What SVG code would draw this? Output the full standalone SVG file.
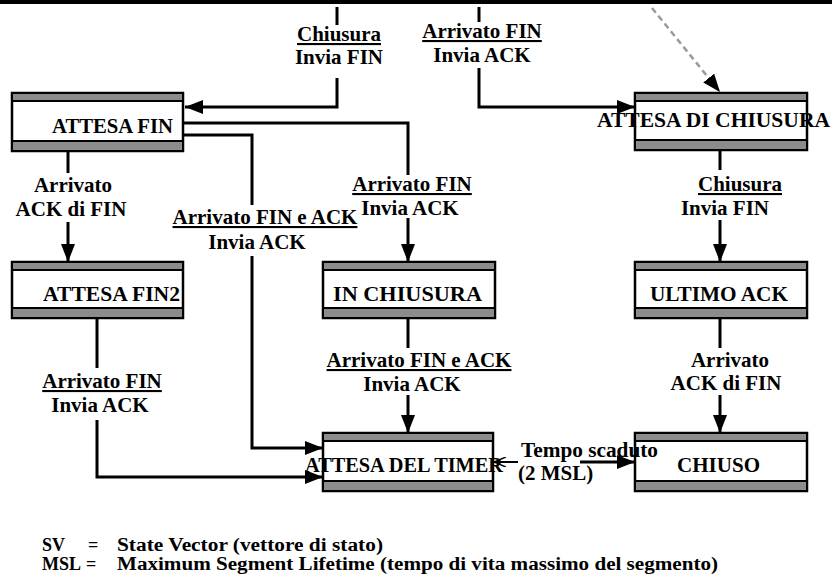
<svg xmlns="http://www.w3.org/2000/svg" width="832" height="580" viewBox="0 0 832 580">
<style>
.box{fill:#fff;stroke:#000;stroke-width:2.5}
.band{fill:#8c8c8c;stroke:#000;stroke-width:2}
.nt{font-family:'Liberation Serif','DejaVu Serif','Times New Roman',serif;font-weight:bold;font-size:20px;fill:#000}
.lb{font-family:'Liberation Serif','DejaVu Serif','Times New Roman',serif;font-weight:bold;font-size:21px;fill:#000;text-anchor:middle}
.u{text-decoration:underline}
.ln{fill:none;stroke:#000;stroke-width:3}
.lg{font-family:'Liberation Serif','DejaVu Serif','Times New Roman',serif;font-weight:bold;font-size:18px;fill:#000}
</style>
<defs>
<marker id="ah" markerUnits="userSpaceOnUse" markerWidth="18" markerHeight="14" refX="18" refY="7" orient="auto">
<path d="M0,0 L18,7 L0,14 z" fill="#000"/>
</marker>
<marker id="ahs" markerUnits="userSpaceOnUse" markerWidth="12" markerHeight="10" refX="12" refY="5" orient="auto">
<path d="M0,0 L12,5 L0,10" fill="none" stroke="#000" stroke-width="1.5"/>
</marker>
</defs>
<rect x="0" y="0" width="832" height="4" fill="#000"/>

<g id="attesa-fin">
<rect class="box" x="12" y="93" width="171" height="58"/>
<rect class="band" x="12" y="93" width="171" height="8"/>
<rect class="band" x="12" y="141" width="171" height="10"/>
<text class="nt" x="52" y="133" textLength="121" lengthAdjust="spacingAndGlyphs">ATTESA FIN</text>
</g>
<g id="attesa-di-chiusura">
<rect class="box" x="635" y="93" width="172" height="57"/>
<rect class="band" x="635" y="93" width="172" height="8"/>
<rect class="band" x="635" y="140" width="172" height="10"/>
<text class="nt" x="597" y="127" textLength="233" lengthAdjust="spacingAndGlyphs">ATTESA DI CHIUSURA</text>
</g>
<g id="attesa-fin2">
<rect class="box" x="12" y="262" width="171" height="56"/>
<rect class="band" x="12" y="262" width="171" height="8"/>
<rect class="band" x="12" y="308" width="171" height="10"/>
<text class="nt" x="43" y="301" textLength="137" lengthAdjust="spacingAndGlyphs">ATTESA FIN2</text>
</g>
<g id="in-chiusura">
<rect class="box" x="323" y="262" width="172" height="56"/>
<rect class="band" x="323" y="262" width="172" height="8"/>
<rect class="band" x="323" y="308" width="172" height="10"/>
<text class="nt" x="333" y="301" textLength="149" lengthAdjust="spacingAndGlyphs">IN CHIUSURA</text>
</g>
<g id="ultimo-ack">
<rect class="box" x="635" y="262" width="172" height="56"/>
<rect class="band" x="635" y="262" width="172" height="8"/>
<rect class="band" x="635" y="308" width="172" height="10"/>
<text class="nt" x="650" y="301" textLength="138" lengthAdjust="spacingAndGlyphs">ULTIMO ACK</text>
</g>
<g id="attesa-del-timer">
<rect class="box" x="323" y="433" width="170" height="58"/>
<rect class="band" x="323" y="433" width="170" height="8"/>
<rect class="band" x="323" y="481" width="170" height="10"/>
<text class="nt" x="305" y="472" textLength="198" lengthAdjust="spacingAndGlyphs">ATTESA DEL TIMER</text>
</g>
<g id="chiuso">
<rect class="box" x="635" y="433" width="172" height="58"/>
<rect class="band" x="635" y="433" width="172" height="8"/>
<rect class="band" x="635" y="481" width="172" height="10"/>
<text class="nt" x="677" y="472" textLength="83" lengthAdjust="spacingAndGlyphs">CHIUSO</text>
</g>

<g id="connectors">
<path class="ln" d="M337,7 V25"/>
<path class="ln" d="M337,78 V107 H185" marker-end="url(#ah)"/>
<path class="ln" d="M479,7 V22"/>
<path class="ln" d="M479,68 V107 H635" marker-end="url(#ah)"/>
<path d="M652,8 L720,92" fill="none" stroke="#9a9a9a" stroke-width="2.5" stroke-dasharray="6 4" marker-end="url(#ah)"/>
<path class="ln" d="M68,152 V173"/>
<path class="ln" d="M68,222 V262" marker-end="url(#ah)"/>
<path class="ln" d="M183,123 H408 V175"/>
<path class="ln" d="M408,218 V262" marker-end="url(#ah)"/>
<path class="ln" d="M183,135 H252 V205"/>
<path class="ln" d="M252,256 V448 H323" marker-end="url(#ah)"/>
<path class="ln" d="M97,318 V368"/>
<path class="ln" d="M97,420 V477 H323" marker-end="url(#ah)"/>
<path class="ln" d="M408,318 V348"/>
<path class="ln" d="M408,395 V433" marker-end="url(#ah)"/>
<path class="ln" d="M720,150 V170"/>
<path class="ln" d="M720,220 V262" marker-end="url(#ah)"/>
<path class="ln" d="M720,318 V348"/>
<path class="ln" d="M720,395 V433" marker-end="url(#ah)"/>
<path d="M518,462 H494" fill="none" stroke="#000" stroke-width="2" marker-end="url(#ahs)"/>
<path class="ln" d="M580,462 H635" marker-end="url(#ah)"/>

<text class="lb"><tspan x="339" y="41" class="u">Chiusura</tspan><tspan x="339" y="64">Invia FIN</tspan></text>
<text class="lb"><tspan x="482" y="38" class="u">Arrivato FIN</tspan><tspan x="482" y="62">Invia ACK</tspan></text>
<text class="lb"><tspan x="73" y="192">Arrivato</tspan><tspan x="71" y="216">ACK di FIN</tspan></text>
<text class="lb"><tspan x="412" y="191" class="u">Arrivato FIN</tspan><tspan x="410" y="215">Invia ACK</tspan></text>
<text class="lb"><tspan x="265" y="224" class="u">Arrivato FIN e ACK</tspan><tspan x="257" y="249">Invia ACK</tspan></text>
<text class="lb"><tspan x="102" y="388" class="u">Arrivato FIN</tspan><tspan x="100" y="412">Invia ACK</tspan></text>
<text class="lb"><tspan x="419" y="367" class="u">Arrivato FIN e ACK</tspan><tspan x="412" y="391">Invia ACK</tspan></text>
<text class="lb"><tspan x="740" y="191" class="u">Chiusura</tspan><tspan x="725" y="215">Invia FIN</tspan></text>
<text class="lb"><tspan x="730" y="367">Arrivato</tspan><tspan x="726" y="390">ACK di FIN</tspan></text>
<text class="lb" style="text-anchor:start"><tspan x="521" y="457" textLength="137" lengthAdjust="spacingAndGlyphs">Tempo scaduto</tspan><tspan x="518" y="480">(2 MSL)</tspan></text>
</g>

<g id="legend">
<text class="lg" x="42" y="551">SV</text>
<text class="lg" x="88" y="551">=</text>
<text class="lg" x="117" y="551" textLength="266" lengthAdjust="spacingAndGlyphs">State Vector (vettore di stato)</text>
<text class="lg" x="42" y="570">MSL</text>
<text class="lg" x="86" y="570">=</text>
<text class="lg" x="117" y="570" textLength="601" lengthAdjust="spacingAndGlyphs">Maximum Segment Lifetime (tempo di vita massimo del segmento)</text>
</g>
</svg>
